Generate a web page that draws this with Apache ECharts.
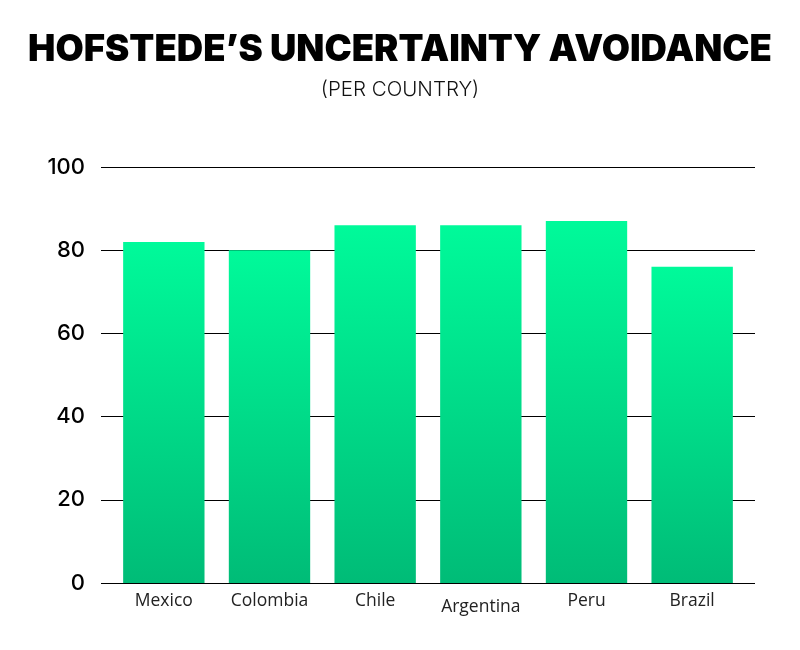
<!DOCTYPE html>
<html>
<head>
<meta charset="utf-8">
<script src="https://cdn.jsdelivr.net/npm/echarts@6/dist/echarts.min.js"></script>
<style>
  html, body { margin: 0; padding: 0; background: #fff; }
  #main { width: 800px; height: 650px; }
</style>
</head>
<body>
<div id="main"></div>
<script>
const countries = ['Mexico', 'Colombia', 'Chile', 'Argentina', 'Peru', 'Brazil'];
const avoidance = [82, 80, 86, 86, 87, 76];
const yTicks = [0, 20, 40, 60, 80, 100];

const chart = echarts.init(document.getElementById('main'));

const barColor = new echarts.graphic.LinearGradient(0, 0, 0, 1, [
    { offset: 0, color: '#00fa9a' },
    { offset: 1, color: '#00bc77' }
]);

const option = {
    backgroundColor: '#ffffff',
    title: [{
        text: 'HOFSTEDE\u2019S UNCERTAINTY AVOIDANCE',
        left: 'center',
        top: 27,
        textStyle: {
            fontFamily: 'Inter',
            fontWeight: 900,
            fontSize: 36.5,
            color: '#000'
        }
    }, {
        text: '(PER COUNTRY)',
        left: 'center',
        top: 74,
        textStyle: {
            fontFamily: 'Inter',
            fontWeight: 300,
            fontSize: 20.5,
            color: '#111'
        }
    }],
    grid: [
        // grid for the gridlines and y labels, full width
        { left: 101, right: 45, top: 167, bottom: 67 },
        // grid for the bars
        { left: 111, right: 55, top: 167, bottom: 67 }
    ],
    xAxis: [{
        gridIndex: 0,
        type: 'category',
        data: countries,
        show: false
    }, {
        gridIndex: 1,
        type: 'category',
        data: countries.map(c => c === 'Argentina'
            ? { value: c, textStyle: { padding: [6, 0, 0, 0] } }
            : c),
        axisLine: { show: false },
        axisTick: { show: false },
        axisLabel: {
            margin: 9,
            fontFamily: 'Open Sans',
            fontSize: 17.5,
            color: '#222'
        }
    }],
    yAxis: [{
        gridIndex: 0,
        type: 'value',
        min: yTicks[0],
        max: yTicks[yTicks.length - 1],
        interval: 20,
        axisLine: { show: false },
        axisTick: { show: false },
        axisLabel: {
            margin: 16,
            fontFamily: 'Inter',
            fontWeight: 500,
            fontSize: 22,
            color: '#000'
        },
        splitLine: { lineStyle: { color: '#000', width: 1 } }
    }, {
        gridIndex: 1,
        type: 'value',
        min: yTicks[0],
        max: yTicks[yTicks.length - 1],
        interval: 20,
        show: false,
        splitLine: { show: false }
    }],
    series: [{
        type: 'bar',
        xAxisIndex: 1,
        yAxisIndex: 1,
        data: avoidance,
        barCategoryGap: '23%',
        itemStyle: { color: barColor },
        silent: true
    }]
};

chart.setOption(option);
</script>
</body>
</html>
